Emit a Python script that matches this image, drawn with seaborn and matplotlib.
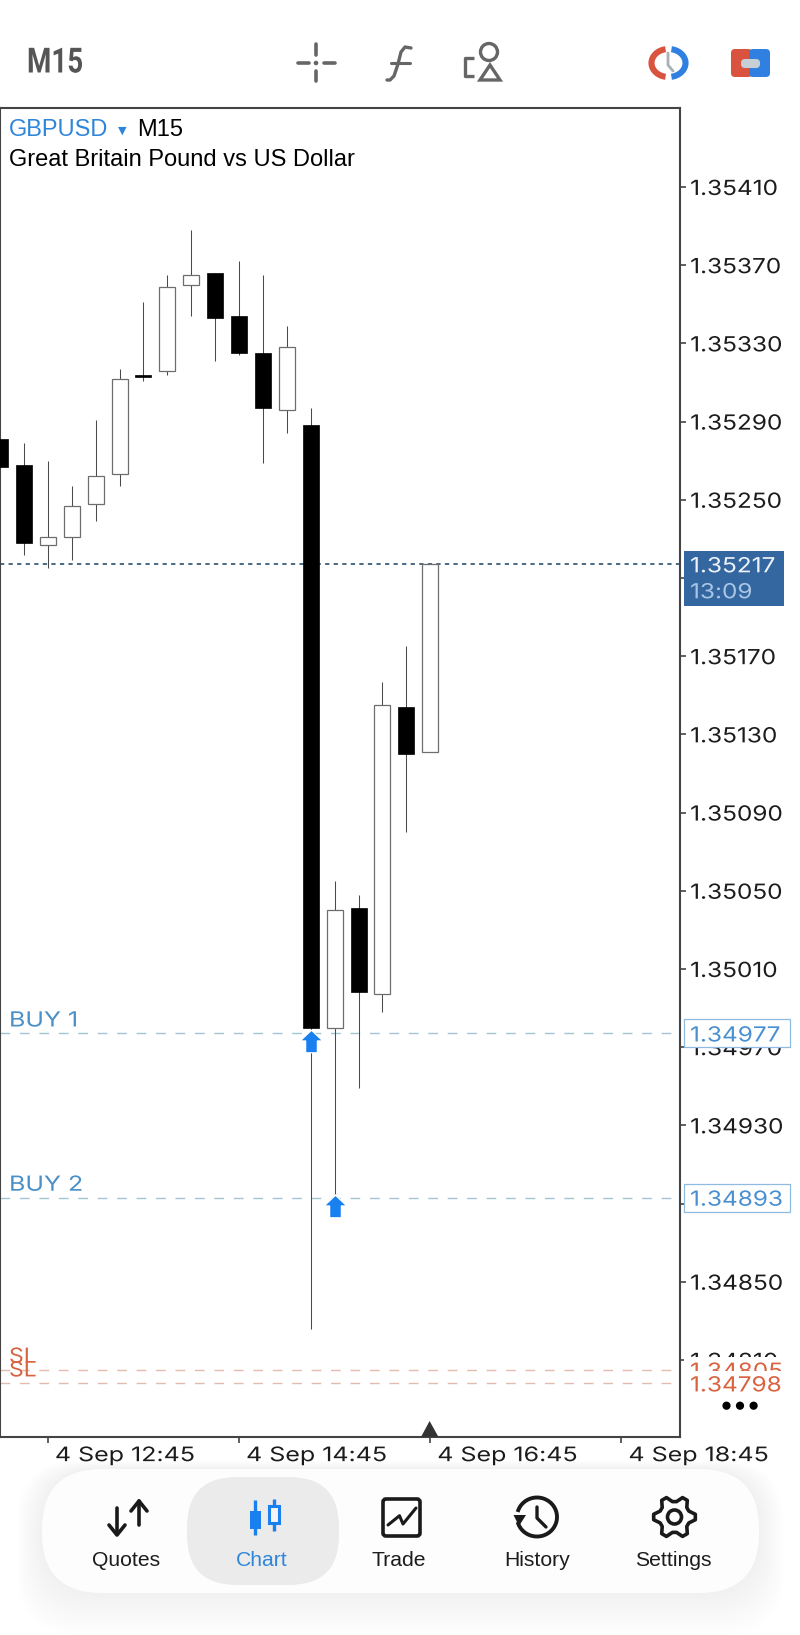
import numpy as np
import pandas as pd
import matplotlib
matplotlib.use("Agg")
import matplotlib.pyplot as plt
import seaborn as sns
from matplotlib.patches import Circle, FancyBboxPatch, Polygon, Rectangle
from matplotlib.path import Path
from matplotlib.patheffects import AbstractPathEffect
from matplotlib.transforms import Affine2D, ScaledTranslation

# candles, 15 minutes each
open_ = [1.35281, 1.35268, 1.35227, 1.35231, 1.35248, 1.35263, 1.35314, 1.35316, 1.35360, 1.35366,
         1.35344, 1.35325, 1.35296, 1.35288, 1.34980, 1.35041, 1.34997, 1.35144, 1.35121]
close = [1.35267, 1.35228, 1.35231, 1.35247, 1.35262, 1.35312, 1.35313, 1.35359, 1.35365, 1.35343,
         1.35325, 1.35297, 1.35328, 1.34980, 1.35040, 1.34998, 1.35145, 1.35120, 1.35217]
high = [1.35281, 1.35279, 1.35270, 1.35257, 1.35291, 1.35317, 1.35351, 1.35365, 1.35388, 1.35366,
        1.35372, 1.35365, 1.35339, 1.35297, 1.35055, 1.35048, 1.35157, 1.35175, 1.35217]
low = [1.35267, 1.35222, 1.35215, 1.35219, 1.35239, 1.35257, 1.35311, 1.35314, 1.35344, 1.35321,
       1.35324, 1.35269, 1.35284, 1.34826, 1.34895, 1.34949, 1.34988, 1.35080, 1.35121]

y_ticks = [1.35410, 1.35370, 1.35330, 1.35290, 1.35250, 1.35210, 1.35170, 1.35130,
           1.35090, 1.35050, 1.35010, 1.34970, 1.34930, 1.34890, 1.34850, 1.34810]
x_ticks = [2, 10, 18, 26]
x_labels = ["4 Sep 12:45", "4 Sep 14:45", "4 Sep 16:45", "4 Sep 18:45"]

bid = 1.35217
timer = "13:09"
buy_levels = [1.34977, 1.34893]
buy_names = ["BUY 1", "BUY 2"]
sl_levels = [1.34805, 1.34798]
arrow_idx = [13, 14]
arrow_price = [1.34973, 1.34889]
nav_names = ["Quotes", "Chart", "Trade", "History", "Settings"]
nav_x = [126.5, 262, 399, 537, 673.5]

GRAY = "#666666"
BLUE = "#2f86d9"
RED = "#d9623f"


class Wide(AbstractPathEffect):
    # the app's labels are set much wider than any installed font
    def __init__(self, sx):
        super().__init__()
        self.sx = sx

    def draw_path(self, renderer, gc, tpath, affine, rgbFace=None):
        renderer.draw_path(gc, tpath, Affine2D().scale(self.sx, 1) + affine, rgbFace)


sns.set_style("white")
plt.rcParams["font.family"] = ["Liberation Sans", "DejaVu Sans"]
NUM_FONT = ["Inter", "Liberation Sans"]
NUM_WIDE = [Wide(1.17)]

fig = plt.figure(figsize=(8, 16.35), dpi=100, facecolor="white")
ax = fig.add_axes([0, 1 - 1437 / 1635, 680 / 800, (1437 - 108) / 1635])

df = pd.DataFrame({"i": range(len(open_)), "open": open_, "close": close, "high": high, "low": low})
df["top"] = df[["open", "close"]].max(axis=1)
df["bottom"] = df[["open", "close"]].min(axis=1)
df["height"] = df["top"] - df["bottom"]
df["up"] = df["close"] >= df["open"]

# current price and order lines sit under the candles
ax.axhline(bid, color="#4a6a85", lw=1.4, dashes=(2.2, 2.2), zorder=1)
for lv in buy_levels:
    ax.axhline(lv, color="#a3c6d2", lw=1.0, dashes=(7, 7), zorder=1)
for lv in sl_levels:
    ax.axhline(lv, color="#e2bcae", lw=1.0, dashes=(7, 7), zorder=1)

wicks = df.melt(id_vars="i", value_vars=["high", "low"], value_name="price")
sns.lineplot(data=wicks, x="i", y="price", units="i", estimator=None, color="#4a4a4a",
             lw=0.75, solid_capstyle="butt", ax=ax, zorder=2)

up = df[df["up"]]
down = df[~df["up"]]
sns.barplot(x=up["i"].to_numpy(), y=up["height"].to_numpy(), bottom=up["bottom"].to_numpy(),
            native_scale=True, width=0.67, color="white", saturation=1, errorbar=None,
            edgecolor="#6e6e6e", linewidth=0.9, ax=ax, zorder=3)
sns.barplot(x=down["i"].to_numpy(), y=down["height"].to_numpy(), bottom=down["bottom"].to_numpy(),
            native_scale=True, width=0.67, color="black", saturation=1, errorbar=None,
            edgecolor="black", linewidth=0.5, ax=ax, zorder=3)

arrow_marker = Path([(0, 1), (1, 0.05), (0.52, 0.05), (0.52, -1), (-0.52, -1), (-0.52, 0.05), (-1, 0.05), (0, 1)],
                    closed=True)
sns.scatterplot(x=arrow_idx, y=arrow_price, marker=arrow_marker, s=265, color="#1a80f0",
                edgecolor="white", linewidth=0.9, ax=ax, zorder=4)

ax.set_xlim(-0.004, 28.45)
ax.set_ylim(1.347706, 1.354504)
ax.set_xlabel("")
ax.set_ylabel("")

ax.yaxis.tick_right()
ax.set_yticks(y_ticks)
ax.set_yticklabels([f"{t:.5f}" for t in y_ticks], family=NUM_FONT, fontsize=15, color="#1c1c1c",
                   path_effects=NUM_WIDE)
ax.set_xticks(x_ticks)
ax.set_xticklabels(x_labels, family=NUM_FONT, fontsize=14.4, color="#1c1c1c", ha="left",
                   path_effects=[Wide(1.25)])
ax.tick_params(axis="y", which="major", right=True, length=4.3, width=1.2, color="#444444", pad=3)
ax.tick_params(axis="x", which="major", bottom=True, length=4.3, width=1.2, color="#444444", pad=3)
shift = ScaledTranslation(7 / 100, 0, fig.dpi_scale_trans)
for lab in ax.get_xticklabels():
    lab.set_transform(lab.get_transform() + shift)
for side in ax.spines.values():
    side.set_color("#444444")
    side.set_linewidth(1.5)

ytr = ax.get_yaxis_transform()
PX = 0.0001 / 19.55  # price per screen pixel


def price_box(price, half_px, x1_px, x2_px, face, edge, z):
    ax.add_patch(Rectangle((x1_px / 680, price - half_px * PX), (x2_px - x1_px) / 680, 2 * half_px * PX,
                           transform=ytr, facecolor=face, edgecolor=edge, lw=0.9, clip_on=False, zorder=z))


def price_text(price, label, color, z):
    ax.text(690 / 680, price, label, transform=ytr, family=NUM_FONT, fontsize=15, color=color,
            va="center_baseline", ha="left", clip_on=False, zorder=z, path_effects=NUM_WIDE)


# current price flag
price_box(bid - 14.3 * PX, 27.7, 684, 784, "#34679f", "none", 6)
price_text(bid, f"{bid:.5f}", "#eef3f9", 7)
price_text(bid - 26 * PX, timer, "#a9c5e6", 7)

# order levels, each box hides what is under it
for lv, name in zip(buy_levels, buy_names):
    price_box(lv, 14, 684, 790, "white", "#8fbbe0", 6)
    price_text(lv, f"{lv:.5f}", "#4a90d0", 7)
    ax.text(9 / 680, lv + 15 * PX, name, transform=ytr, family=NUM_FONT, fontsize=15, color="#4a90c8",
            va="center_baseline", ha="left", zorder=5, path_effects=[Wide(1.2)])
for n, lv in enumerate(sl_levels):
    price_box(lv, 12.5, 684, 790, "white", "none", 6 + 2 * n)
    price_text(lv, f"{lv:.5f}", RED, 7 + 2 * n)
    ax.text(9 / 680, lv + 15 * PX, "SL", transform=ytr, family=NUM_FONT, fontsize=15, color=RED,
            va="center_baseline", ha="left", zorder=5, path_effects=[Wide(1.1)])

ax.text(9 / 680, 0.9832, "GBPUSD", transform=ax.transAxes, fontsize=17, color=BLUE, va="center")
ax.text(122 / 680, 0.9832, "▼", transform=ax.transAxes, fontsize=8, color=BLUE, va="center", ha="center",
        family=["DejaVu Sans"])
ax.text(137 / 680, 0.9832, "M15", transform=ax.transAxes, fontsize=17, color="black", va="center")
ax.text(9 / 680, 0.9612, "Great Britain Pound vs US Dollar", transform=ax.transAxes, fontsize=17,
        color="black", va="center")

# app chrome in screen pixels
ov = fig.add_axes([0, 0, 1, 1], zorder=10)
ov.set_xlim(0, 800)
ov.set_ylim(1635, 0)
ov.axis("off")


def stroke(xs, ys, color, lw, cap="round"):
    ov.plot(xs, ys, color=color, lw=lw, solid_capstyle=cap, solid_joinstyle="round")


def arc(cx, cy, rx, ry, a1, a2, color, lw, cap="butt"):
    t = np.radians(np.linspace(a1, a2, 80))
    stroke(cx + rx * np.cos(t), cy + ry * np.sin(t), color, lw, cap)


def rounded(x1, y1, x2, y2, r, **kw):
    ov.add_patch(FancyBboxPatch((x1 + r, y1 + r), x2 - x1 - 2 * r, y2 - y1 - 2 * r,
                                boxstyle=f"round,pad={r},rounding_size={r}", **kw))


ov.text(27, 63, "M15", fontsize=25, fontweight="bold", color="#555555", va="center", ha="left",
        family=["Roboto", "Liberation Sans"], path_effects=[Wide(0.8)])
stroke([316, 316], [44, 55], GRAY, 2.6)
stroke([316, 316], [71, 81], GRAY, 2.6)
stroke([298, 309], [63, 63], GRAY, 2.6)
stroke([324, 335], [63, 63], GRAY, 2.6)
ov.add_patch(Circle((316, 63), 1.6, color=GRAY))
stroke([411, 405, 401, 398, 394, 390, 387], [48, 47, 52, 64, 76, 80, 80], GRAY, 2.4)
stroke([391, 410], [63, 63], GRAY, 2.2)
ov.add_patch(Circle((489, 52), 8.5, fill=False, ec=GRAY, lw=2.4))
ov.add_patch(Polygon([(490, 65), (480, 80), (500, 80)], fill=False, ec=GRAY, lw=2.4))
stroke([474, 465, 465, 474], [58, 58, 76, 76], GRAY, 2.4, "butt")

arc(668.5, 63, 17, 14, 100, 260, "#d9533f", 4.4)
arc(668.5, 63, 17, 14, -80, 80, "#2f80e0", 4.4)
stroke([668, 668, 673], [53, 65, 71], "#a8b0b8", 2)
rounded(731, 49, 752, 77, 4, fc="#d9533f", ec="none")
rounded(749, 49, 770, 77, 4, fc="#2f80e0", ec="none")
rounded(741, 59, 760, 68, 4, fc="#c7ced6", ec="none")

# nav bar with a soft shadow
for k in range(14):
    grow = 42 - 3 * k
    rounded(42 - grow * 0.6, 1469 - grow * 0.2, 759 + grow * 0.6, 1593 + grow, 62,
            fc="black", ec="none", alpha=0.0022, zorder=1)
rounded(42, 1469, 759, 1593, 60, fc="#fdfdfd", ec="none", zorder=2)
rounded(187, 1477, 339, 1585, 50, fc="#ebebeb", ec="none", zorder=2)

for name, x in zip(nav_names, nav_x):
    ov.text(x, 1560, name, fontsize=15.2, color=BLUE if name == "Chart" else "#1c1c1c",
            ha="center", va="center", zorder=5)

INK = "#1a1a1a"
stroke([117, 117], [1508, 1534], INK, 2.6)
stroke([109, 117, 125], [1525, 1535, 1525], INK, 2.6)
stroke([139, 139], [1501, 1525], INK, 2.6)
stroke([131, 139, 147], [1511, 1501, 1511], INK, 2.6)

stroke([255, 255], [1500, 1535], "#1a80f0", 2.4, "butt")
ov.add_patch(Rectangle((249.5, 1511), 11, 18, fc="#1a80f0", ec="none", zorder=4))
stroke([273.5, 273.5], [1499, 1531], "#1a80f0", 2.4, "butt")
ov.add_patch(Rectangle((268.5, 1506), 10, 17, fc="#f4f4f4", ec="#1a80f0", lw=2.2, zorder=4))

rounded(383, 1499, 420, 1536, 3, fc="none", ec=INK, lw=2.6, zorder=4)
stroke([388, 399.5, 403, 416], [1525, 1515.7, 1524, 1508], INK, 2.2)

arc(537, 1517, 20, 19.5, -165, 165, INK, 2.8)
ov.add_patch(Polygon([(513.5, 1515), (526, 1515), (519, 1526)], fc=INK, ec="none", zorder=4))
stroke([537, 537, 546], [1507, 1518, 1527], INK, 2.4)

# gear outline
gear_a = np.radians(np.arange(0, 360, 15) + 7.5)
gear_r = np.array([21 if (k % 4) in (0, 3) else 15.5 for k in range(len(gear_a))])
ov.add_patch(Polygon(np.c_[674.5 + gear_r * np.cos(gear_a), 1517 + gear_r * np.sin(gear_a)],
                     closed=True, fill=False, ec=INK, lw=2.6, joinstyle="round", zorder=4))
ov.add_patch(Circle((674.5, 1517), 7, fill=False, ec=INK, lw=2.6, zorder=4))

for x in [726.5, 740, 753.6]:
    ov.add_patch(Circle((x, 1405.7), 3.4, color="black"))
ov.add_patch(Polygon([(429.6, 1421), (421, 1437), (438.5, 1437)], fc="#333333", ec="none"))

plt.savefig("out.png", dpi=100)
